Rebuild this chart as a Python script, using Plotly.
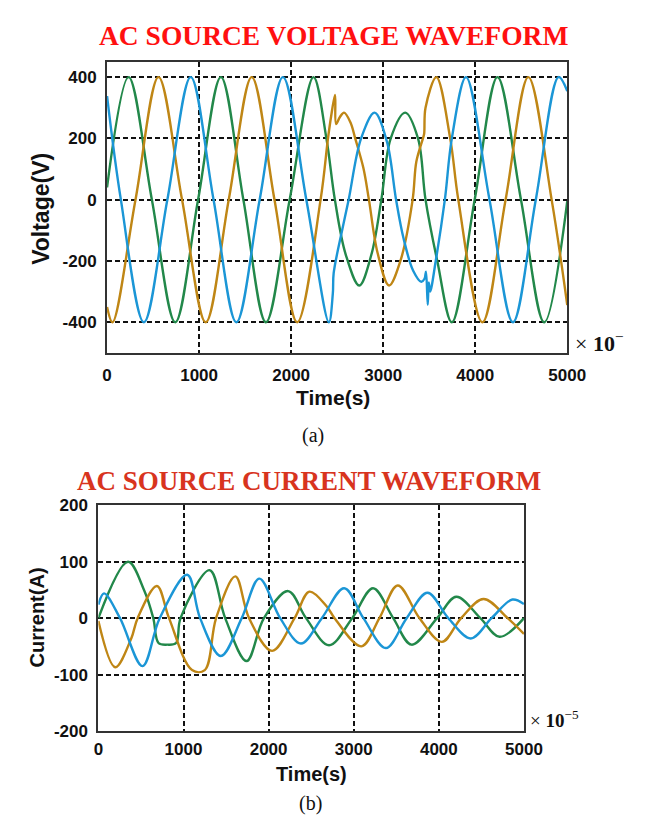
import plotly.graph_objects as go

# ---------------- Data: AC source voltage (time in 1e-5 s units) ----------------
v_green_t = [0, 234, 487, 741, 989, 1237, 1481, 1726, 1984, 2243, 2383, 2475, 2593, 2740, 2872, 2980,
             3082, 3239, 3379, 3460, 3588, 3746, 3994, 4242, 4497, 4750, 5000]
v_green = [40, 400, 0, -400, 0, 400, 0, -400, 0, 400, 200, 0, -179, -280, -179, 0,
           200, 284, 199, 0, -200, -400, 0, 400, 0, -400, -5]

v_orange_t = [0, 59, 309, 559, 815, 1072, 1322, 1572, 1819, 2066, 2320, 2400, 2435, 2477, 2488, 2530,
              2575, 2645, 2697, 2785, 2845, 2940, 3064, 3187, 3320, 3360, 3431, 3445, 3460, 3578,
              3728, 3816, 4078, 4330, 4577, 4830, 5000]
v_orange = [-350, -400, 0, 400, 0, -400, 0, 400, 0, -400, 0, 199, 273, 342, 247, 270,
            284, 252, 199, 103, 0, -175, -280, -200, 0, 124, 199, 215, 300, 400,
            200, 0, -400, 0, 400, 0, -344]

v_blue_t = [0, 150, 400, 655, 909, 1157, 1405, 1658, 1911, 2165, 2410, 2453, 2462, 2558, 2625, 2760,
            2907, 3040, 3140, 3221, 3326, 3414, 3449, 3465, 3484, 3495, 3510, 3571, 3670, 3746,
            3900, 4155, 4409, 4658, 4906, 5000]
v_blue = [338, 0, -400, 0, 400, 0, -400, 0, 400, 0, -400, -306, -240, -94, 0, 200,
          284, 190, 0, -126, -232, -268, -258, -235, -343, -270, -300, -200, 0, 200,
          400, 0, -400, 0, 400, 354]

# ---------------- Data: AC source current ----------------
i_green_t = [0, 348, 536, 645, 706, 810, 913, 965, 1308, 1490, 1741, 1945, 2230, 2440, 2710, 2982,
             3227, 3464, 3679, 3980, 4205, 4488, 4714, 5000]
i_green = [0, 100, 50, 0, -44, -47, -44, 0, 85, 0, -76, 0, 48, 0, -48, 0,
           53, 0, -47, 0, 38, 0, -33, 0]

i_orange_t = [0, 198, 386, 461, 687, 830, 1100, 1250, 1383, 1609, 1770, 2041, 2305, 2480, 2681, 2775,
              3090, 3302, 3517, 3773, 4036, 4262, 4525, 4808, 5000]
i_orange = [-5, -87, -36, 0, 57, 0, -92, -92, 0, 74, 0, -58, 0, 47, 21, 0,
            -50, 0, 58, 0, -42, 0, 34, 0, -28]

i_blue_t = [0, 66, 254, 518, 720, 1044, 1195, 1439, 1684, 1891, 2136, 2380, 2625, 2888, 3114, 3378,
            3622, 3867, 4111, 4375, 4619, 4864, 5000]
i_blue = [24, 44, 0, -85, 0, 77, 0, -67, 0, 70, 0, -45, 0, 53, 0, -53,
          0, 45, 0, -36, 0, 33, 25]

x_ticks = [0, 1000, 2000, 3000, 4000, 5000]
v_ticks = [-400, -200, 0, 200, 400]
i_ticks = [-200, -100, 0, 100, 200]

BLUE = "#1b96d6"
ORANGE = "#bf8615"
GREEN = "#22884a"

W, H = 645, 826

fig = go.Figure()

def add(t, v, color, xa, ya):
    fig.add_trace(go.Scatter(x=t, y=v, mode="lines", xaxis=xa, yaxis=ya,
                             line=dict(color=color, width=2.4, shape="spline", smoothing=1.0),
                             showlegend=False, hoverinfo="skip"))

add(v_green_t, v_green, GREEN, "x", "y")
add(v_orange_t, v_orange, ORANGE, "x", "y")
add(v_blue_t, v_blue, BLUE, "x", "y")
add(i_green_t, i_green, GREEN, "x2", "y2")
add(i_orange_t, i_orange, ORANGE, "x2", "y2")
add(i_blue_t, i_blue, BLUE, "x2", "y2")

tickfont = dict(family="Liberation Sans, Arial, sans-serif", size=17, color="#111", weight="bold")

GRID = dict(showgrid=True, gridcolor="#111", griddash="5px,3px", gridwidth=1.7,
            showline=True, linecolor="#333", linewidth=2, mirror=True, zeroline=False)

def xaxis(domain, anchor, tl):
    return dict(domain=domain, anchor=anchor, range=[0, 5000], tickvals=x_ticks,
                ticktext=[str(v) for v in x_ticks], tickfont=tickfont,
                ticks="outside", ticklen=tl, tickcolor="rgba(0,0,0,0)", **GRID)

def yaxis(domain, anchor, rng, vals):
    return dict(domain=domain, anchor=anchor, range=rng, tickvals=vals,
                ticktext=[str(v) for v in vals], tickfont=tickfont,
                ticks="outside", ticklen=5, tickcolor="rgba(0,0,0,0)", **GRID)

fig.update_layout(
    width=W, height=H, margin=dict(l=0, r=0, t=0, b=0),
    paper_bgcolor="white", plot_bgcolor="white",
    xaxis=xaxis([106 / W, 584 / W], "y", 6),
    yaxis=yaxis([(H - 352) / H, (H - 54) / H], "x", [-500, 450], v_ticks),
    xaxis2=xaxis([97 / W, 539 / W], "y2", 2),
    yaxis2=yaxis([(H - 739) / H, (H - 508) / H], "x2", [-200, 200], i_ticks),
)

def ann(text, px, py, size, family, color="#111", bold=False, angle=0, xanchor="center"):
    fig.add_annotation(text=text, x=px / W, y=(H - py) / H, xref="paper", yref="paper",
                       showarrow=False, xanchor=xanchor, yanchor="middle", textangle=angle,
                       font=dict(size=size, family=family, color=color,
                                 weight="bold" if bold else "normal"))

SANS = "Liberation Sans, Arial, sans-serif"
SERIF = "Liberation Serif, Times New Roman, serif"

ann("AC SOURCE VOLTAGE WAVEFORM", 341, 27, 27.5, SERIF, color="#ff1010", bold=True)
ann("Voltage(V)", 38, 205, 23, SANS, bold=True, angle=-90)
ann("Time(s)", 341, 398, 21, SANS, bold=True)
ann("× <b>10</b><sup>−</sup>", 590, 341, 22, SERIF, xanchor="left")
ann("(a)", 320, 437, 20, SERIF)

ann("AC SOURCE CURRENT WAVEFORM", 316, 483, 27, SERIF, color="#d8341e", bold=True)
ann("Current(A)", 33, 623, 20, SANS, bold=True, angle=-90)
ann("Time(s)", 318, 783, 20, SANS, bold=True)
ann("× <b>10</b><sup>−5</sup>", 543, 727, 19, SERIF, xanchor="left")
ann("(b)", 317, 813, 20, SERIF)

fig.write_html("out.html")
